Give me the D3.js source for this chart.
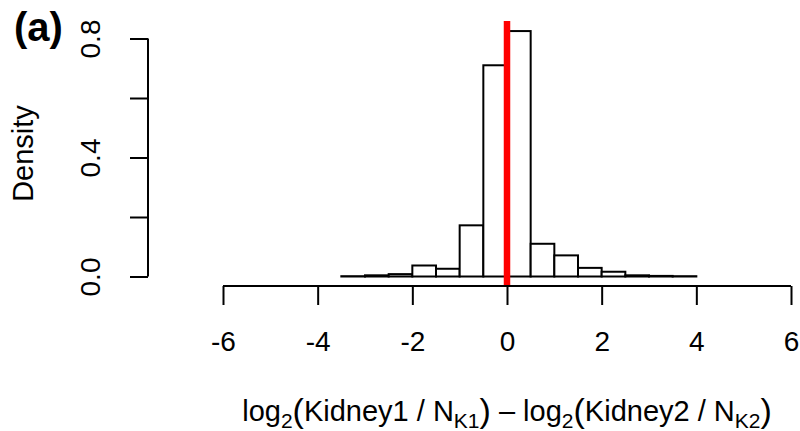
<!DOCTYPE html>
<html>
<head>
<meta charset="utf-8">
<script src="https://cdn.jsdelivr.net/npm/d3@7"></script>
<style>
  body { margin: 0; background: #fff; }
  text { font-family: 'Liberation Sans', Arial, Helvetica, sans-serif; fill: #000; }
</style>
</head>
<body>
<div class="hist"></div>
<script>
// histogram bins (left edges, width 0.5) and densities
const binStarts = [-3.5, -3, -2.5, -2, -1.5, -1, -0.5, 0, 0.5, 1, 1.5, 2, 2.5, 3, 3.5]
const densities = [0.001, 0.004, 0.008, 0.037, 0.026, 0.172, 0.71, 0.825, 0.11, 0.071, 0.029, 0.016, 0.004, 0.002, 0.001]
const binWidth = 0.5

const xTicks = [-6, -4, -2, 0, 2, 4, 6]
const yTicks = [0, 0.2, 0.4, 0.6, 0.8]
const yTickLabels = ['0.0', '', '0.4', '', '0.8']
const refLine = 0

const W = 800
const H = 431

const svg = d3
  .select('.hist')
  .append('svg')
  .attr('width', W)
  .attr('height', H)

const x = d3.scaleLinear().domain([-6, 6]).range([223, 791])
const y = d3.scaleLinear().domain([0, 0.8]).range([276.5, 38.5])

// plot region limits (R extends the usr range a bit)
const yLim = [y.invert(286), y.invert(21)]

// bars
svg
  .append('g')
  .selectAll('rect')
  .data(binStarts)
  .enter()
  .append('rect')
  .attr('x', d => x(d))
  .attr('y', (d, i) => y(densities[i]))
  .attr('width', d => x(d + binWidth) - x(d))
  .attr('height', (d, i) => y(0) - y(densities[i]))
  .attr('fill', '#fff')
  .attr('stroke', '#000')
  .attr('stroke-width', 2)

// red reference line
svg
  .append('line')
  .attr('x1', x(refLine))
  .attr('x2', x(refLine))
  .attr('y1', y(yLim[1]))
  .attr('y2', y(yLim[0]))
  .attr('stroke', '#ff0000')
  .attr('stroke-width', 6.5)

// x axis
const xAxis = svg
  .append('g')
  .attr('transform', `translate(0,${y(yLim[0])})`)
  .call(d3.axisBottom(x).tickValues(xTicks).tickSize(19).tickPadding(26).tickFormat(d3.format('d')))
xAxis.select('.domain').attr('stroke-width', 2).attr('d', `M${x(-6)},0H${x(6)}`)
xAxis.selectAll('.tick line').attr('stroke-width', 2)
xAxis.selectAll('.tick text')
  .attr('font-size', 28)
  .attr('font-family', "'Liberation Sans', Arial, sans-serif")
  .text(d => (d < 0 ? '-' + Math.abs(d) : d))

// y axis
const yAxis = svg
  .append('g')
  .attr('transform', 'translate(148,0)')
  .call(d3.axisLeft(y).tickValues(yTicks).tickSize(18).tickFormat((d, i) => yTickLabels[i]))
yAxis.select('.domain').attr('stroke-width', 2).attr('d', `M0,${y(0)}V${y(0.8)}`)
yAxis.selectAll('.tick text')
  .attr('font-size', 28)
  .attr('font-family', "'Liberation Sans', Arial, sans-serif")
  .attr('text-anchor', 'middle')
  .attr('dy', 0)
  .attr('x', 0)
  .attr('transform', 'translate(-48,0) rotate(-90)')
yAxis.selectAll('.tick line').attr('stroke-width', 2)

// y label
svg
  .append('text')
  .attr('transform', `translate(33,${(y(0) + y(0.8)) / 2 - 4}) rotate(-90)`)
  .attr('text-anchor', 'middle')
  .attr('font-size', 29)
  .text('Density')

// panel tag
svg
  .append('text')
  .attr('x', 14)
  .attr('y', 41)
  .attr('font-size', 40)
  .attr('font-weight', 'bold')
  .text('(a)')

// x label with subscripts
const xl = svg
  .append('text')
  .attr('x', x(0))
  .attr('y', 421)
  .attr('text-anchor', 'middle')
  .attr('font-size', 29)

const sub = t => xl.append('tspan').attr('font-size', 21).attr('dy', 7).text(t)
const up = (t, big) => xl.append('tspan').attr('dy', -7).text(t)
const paren = t => xl.append('tspan').attr('font-size', 34).attr('dy', 1).text(t)
const plain = t => xl.append('tspan').attr('font-size', 29).attr('dy', -1).text(t)

xl.append('tspan').text('log')
sub('2')
xl.append('tspan').attr('font-size', 34).attr('dy', -6).text('(')
plain('Kidney1 / N')
sub('K1')
xl.append('tspan').attr('font-size', 34).attr('dy', -6).text(')')
plain(' \u2013 log')
sub('2')
xl.append('tspan').attr('font-size', 34).attr('dy', -6).text('(')
plain('Kidney2 / N')
sub('K2')
xl.append('tspan').attr('font-size', 34).attr('dy', -6).text(')')
</script>
</body>
</html>
